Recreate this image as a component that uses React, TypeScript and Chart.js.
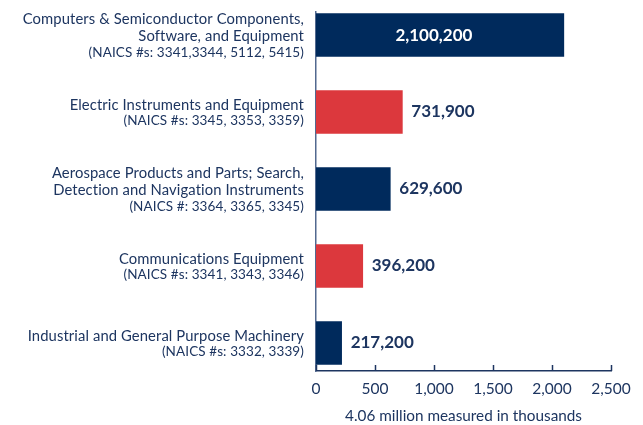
import React, { useEffect, useRef } from "react";
import { Chart, registerables } from "chart.js";

Chart.register(...registerables);

// ---- Data ----
const categoryTitles: string[][] = [
  ["Computers & Semiconductor Components,", "Software, and Equipment"],
  ["Electric Instruments and Equipment"],
  ["Aerospace Products and Parts; Search,", "Detection and Navigation Instruments"],
  ["Communications Equipment"],
  ["Industrial and General Purpose Machinery"],
];
const categoryCodes: string[] = [
  "(NAICS #s: 3341,3344, 5112, 5415)",
  "(NAICS #s: 3345, 3353, 3359)",
  "(NAICS #: 3364, 3365, 3345)",
  "(NAICS #s: 3341, 3343, 3346)",
  "(NAICS #s: 3332, 3339)",
];
const employmentThousands: number[] = [2100.2, 731.9, 629.6, 396.2, 217.2];
const valueLabels: string[] = ["2,100,200", "731,900", "629,600", "396,200", "217,200"];
const barColors: string[] = ["#002a5c", "#dc383d", "#002a5c", "#dc383d", "#002a5c"];
const xMin = 0;
const xMax = 2500;
const xStep = 500;
const axisTitle = "4.06 million measured in thousands";

// ---- Styles ----
const FONT = "Lato, 'Open Sans', sans-serif";
const TEXT = "#1d3560";
const NAVY = "#1d3560";

const annotate = {
  id: "annotate",
  afterDatasetsDraw(chart: any) {
    const { ctx, chartArea, scales } = chart;
    const xs = scales.x;
    const ys = scales.y;
    ctx.save();
    // Category labels
    ctx.textAlign = "right";
    ctx.textBaseline = "middle";
    ctx.fillStyle = TEXT;
    try {
      ctx.letterSpacing = "0.1px";
    } catch (e) {}
    const lx = chartArea.left - 12;
    categoryTitles.forEach((lines, i) => {
      const cy = ys.getPixelForValue(i);
      const offs = lines.length === 2 ? [-16, 1, 18] : [-7, 9];
      ctx.font = `14.8px ${FONT}`;
      lines.forEach((ln, j) => ctx.fillText(ln, lx, cy + offs[j]));
      ctx.font = `13.5px ${FONT}`;
      ctx.fillText(categoryCodes[i], lx, cy + offs[lines.length]);
    });
    try {
      ctx.letterSpacing = "0px";
    } catch (e) {}
    // Value labels
    const meta = chart.getDatasetMeta(0);
    ctx.font = `bold 17px ${FONT}`;
    ctx.textBaseline = "middle";
    meta.data.forEach((bar: any, i: number) => {
      const { x, y, base } = bar.getProps(["x", "y", "base"], true);
      if (x - base > 150) {
        ctx.fillStyle = "#ffffff";
        ctx.textAlign = "center";
        ctx.fillText(valueLabels[i], (x + base) / 2 - 6, y);
      } else {
        ctx.fillStyle = NAVY;
        ctx.textAlign = "left";
        ctx.fillText(valueLabels[i], x + 9, y);
      }
    });
    // Inward tick marks on the x axis
    ctx.strokeStyle = NAVY;
    ctx.lineWidth = 1.5;
    xs.ticks.forEach((t: any) => {
      const px = Math.round(xs.getPixelForValue(t.value)) + 0.5;
      ctx.beginPath();
      ctx.moveTo(px, chartArea.bottom);
      ctx.lineTo(px, chartArea.bottom - 6);
      ctx.stroke();
    });
    ctx.restore();
  },
};

export default function App() {
  const ref = useRef<HTMLCanvasElement | null>(null);

  useEffect(() => {
    document.body.style.margin = "0";
    const canvas = ref.current;
    if (!canvas) return;
    const chart = new Chart(canvas, {
      type: "bar",
      data: {
        datasets: [
          {
            data: employmentThousands.map((v, i) => ({ x: v, y: i })) as any,
            backgroundColor: barColors,
            borderWidth: 0,
            barThickness: 43,
          },
        ],
      },
      options: {
        indexAxis: "y",
        animation: false,
        responsive: false,
        devicePixelRatio: 1,
        layout: { padding: { top: 12, right: 32, left: 0, bottom: 0 } },
        plugins: { legend: { display: false }, tooltip: { enabled: false } },
        scales: {
          x: {
            type: "linear",
            position: "bottom",
            min: xMin,
            max: xMax,
            ticks: {
              stepSize: xStep,
              color: TEXT,
              font: { family: FONT, size: 15.5 },
              padding: 9,
              callback: (v: any) => Number(v).toLocaleString("en-US"),
            },
            grid: { display: false, drawTicks: false, tickLength: 0 },
            border: { display: true, color: NAVY, width: 1.5 },
            title: {
              display: true,
              text: axisTitle,
              color: TEXT,
              font: { family: FONT, size: 15.3 },
              padding: { top: 0, bottom: 0 },
            },
            afterFit: (s: any) => {
              s.height = 54;
            },
          } as any,
          y: {
            type: "linear",
            reverse: true,
            offset: false,
            min: -0.299,
            max: 4.364,
            ticks: { display: false },
            grid: { display: false, drawTicks: false, tickLength: 0, offset: false },
            border: { display: true, color: "#52698f", width: 1.5 },
            afterFit: (s: any) => {
              s.width = 316;
            },
            afterBuildTicks: (s: any) => {
              s.ticks = categoryTitles.map((_, i) => ({ value: i }));
            },
          } as any,
        },
      },
      plugins: [annotate],
    });
    return () => chart.destroy();
  }, []);

  return (
    <div style={{ width: 643, height: 425 }}>
      <canvas ref={ref} width={643} height={425} style={{ display: "block" }} />
    </div>
  );
}
